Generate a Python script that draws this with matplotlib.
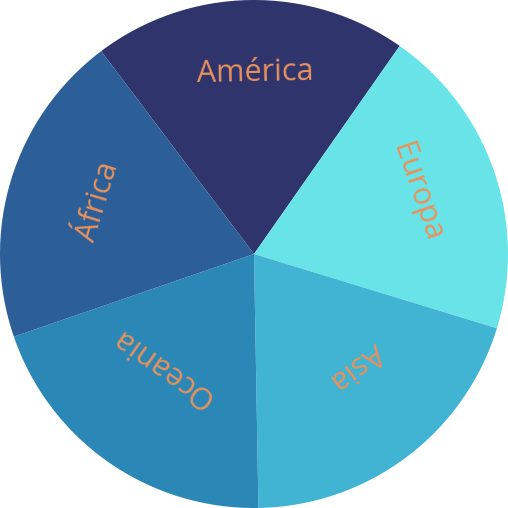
import matplotlib
matplotlib.use("Agg")
import matplotlib.pyplot as plt
from matplotlib.textpath import TextPath
from matplotlib.font_manager import FontProperties
import numpy as np

labels = ["América", "Europa", "Asia", "Oceania", "África"]
values = [1, 1, 1, 1, 1]
colors = ["#30346c", "#68e4e8", "#41b4d4", "#2a87b6", "#2c5f98"]
text_color = "#e8925c"

# label placement (style): angular nudge from wedge middle (deg) and radius of ink centre
label_angle_nudge = [-0.8, 1.8, 5.9, -3.4, -1.1]
label_radius = [0.728, 0.682, 0.610, 0.583, 0.671]

FS = 22
DPI = 100
PX_PER_UNIT = 254.0

fig = plt.figure(figsize=(5.08, 5.08), dpi=DPI)
ax = fig.add_axes([0, 0, 1, 1])
wedges, _ = ax.pie(values, colors=colors, startangle=127, counterclock=False,
                   radius=1.0, wedgeprops=dict(linewidth=0))
fp = FontProperties(family="Open Sans", size=FS)
for w, lab, nud, rr in zip(wedges, labels, label_angle_nudge, label_radius):
    mid = (w.theta1 + w.theta2) / 2
    rot = mid - 90
    ang = np.radians(mid + nud)
    tx, ty = rr * np.cos(ang), rr * np.sin(ang)
    bb = TextPath((0, 0), lab, size=FS, prop=fp).get_extents()
    cx = (bb.x0 + bb.x1) / 2 * DPI / 72 / PX_PER_UNIT
    cy = (bb.y0 + bb.y1) / 2 * DPI / 72 / PX_PER_UNIT
    c, s = np.cos(np.radians(rot)), np.sin(np.radians(rot))
    ox, oy = c * cx - s * cy, s * cx + c * cy
    ax.text(tx - ox, ty - oy, lab, rotation=rot, ha="left", va="baseline",
            rotation_mode="anchor", color=text_color, fontproperties=fp)
ax.set_xlim(-1, 1)
ax.set_ylim(-1, 1)
ax.set_aspect("equal")
ax.axis("off")
fig.savefig("out.png", dpi=DPI, transparent=True)
